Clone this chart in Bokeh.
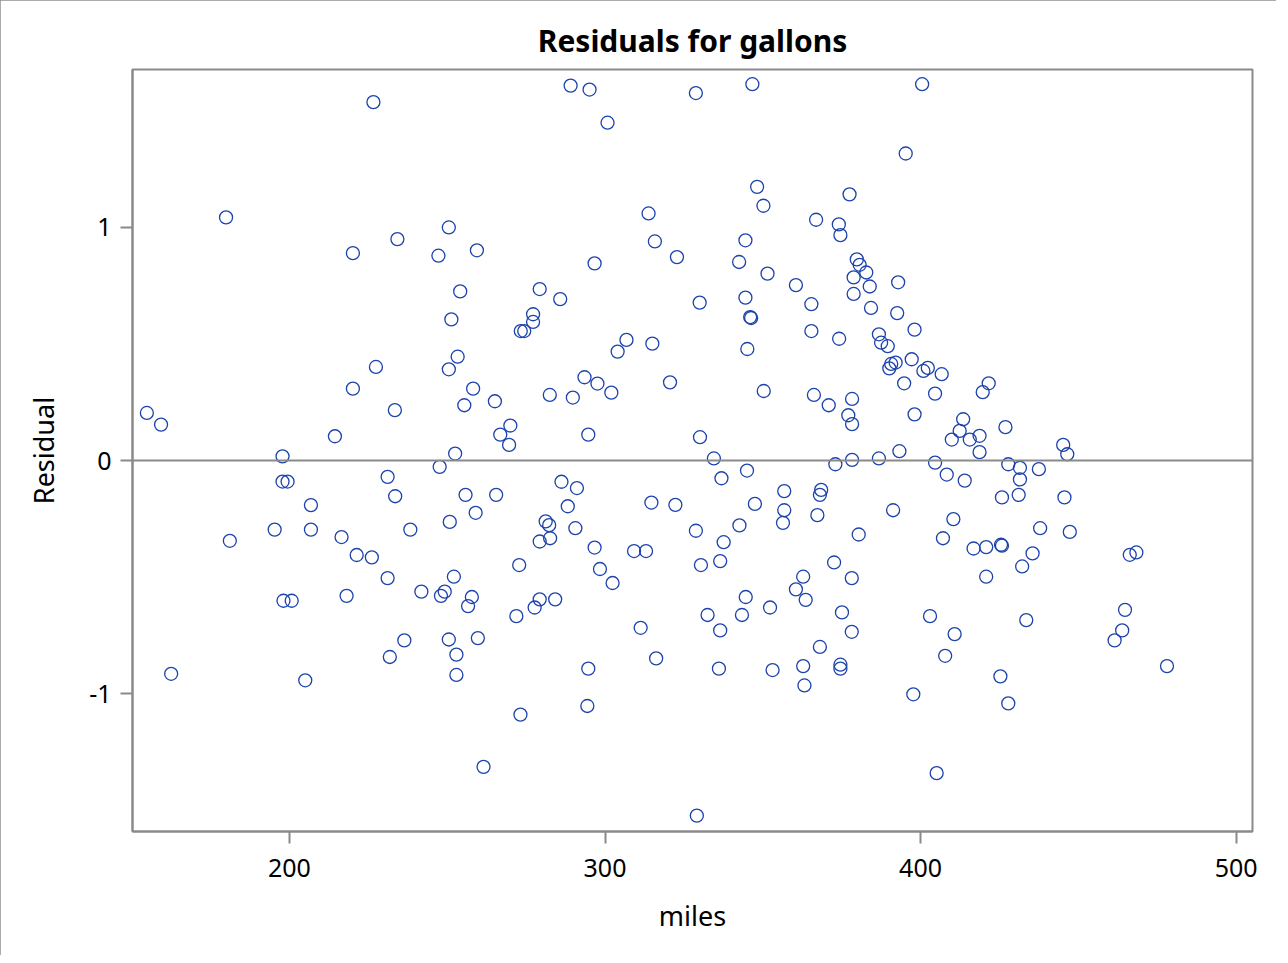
from bokeh.plotting import figure
from bokeh.models import Span, Range1d, FixedTicker, PrintfTickFormatter
from bokeh.embed import file_html
from bokeh.resources import INLINE

miles = [
    154.8, 159.3, 162.5, 179.9, 181.1, 226.6, 234.2, 220.1, 227.4, 220.1, 233.4, 214.4, 197.8,
    197.8, 199.4, 206.8, 231.1, 233.5, 195.3, 206.8, 238.3, 216.5, 221.3, 226.1, 231.1, 241.8,
    198.1, 200.7, 218.1, 236.4, 231.8, 205.0,
    289.1, 295.1, 328.8, 300.8, 313.8, 250.5, 247.2, 259.4, 315.8, 322.8, 296.7, 254.1, 279.3,
    285.8, 330.0, 251.3, 277.2, 277.2, 273.3, 274.4, 306.8, 304.0, 315.0, 253.3, 250.5, 293.5,
    297.6, 302.0, 320.6, 258.2, 255.4, 265.1, 282.5, 289.8, 270.0, 266.8, 269.6, 294.7, 330.1,
    252.5,
    247.6, 286.2, 291.1, 255.8, 265.5, 259.0, 250.8, 288.2, 281.2, 282.3, 290.6, 279.3, 282.6,
    296.7, 314.7, 322.3, 328.8, 309.2, 313.0, 272.8, 298.4, 302.4, 330.4, 252.1, 248.0, 249.2,
    257.8, 256.6, 279.3, 277.7, 284.2, 271.9, 311.3, 332.5, 250.5, 259.7, 252.9, 252.9, 316.2,
    294.7, 294.4, 273.2, 261.5, 329.1,
    346.7, 400.5, 395.3, 348.2, 350.2, 377.5, 366.9, 374.1, 374.6, 344.5, 342.5, 351.5, 360.5,
    379.8, 380.7, 382.8, 378.8, 383.9, 392.9, 378.8, 344.5, 365.4, 384.3, 392.6, 346.0, 346.3,
    365.4, 374.2, 345.1, 398.1, 386.8, 387.5, 389.6, 392.1, 390.7, 390.1, 397.2, 402.3, 400.9,
    406.7, 394.8, 421.6, 419.7, 404.6, 350.3, 366.2, 370.9, 378.3, 377.1, 378.3, 398.1, 413.5,
    412.4, 409.9, 415.6, 418.7, 418.7, 393.3,
    334.5, 373.0, 378.3, 386.8, 404.6, 336.9, 345.0, 408.3, 414.0, 356.8, 368.5, 368.1, 347.5,
    356.8, 356.4, 367.3, 391.3, 342.6, 380.4, 410.4, 407.1, 337.6, 416.8, 420.8, 336.5, 372.6,
    362.8, 378.2, 420.8, 360.5, 363.6, 344.6, 352.3, 343.4, 375.1, 403.0, 336.5, 378.2, 410.8,
    368.1, 407.8, 336.1, 353.1, 362.8, 374.6, 374.6, 363.2, 397.7, 405.1,
    426.9, 445.2, 446.5, 427.8, 431.5, 437.5, 431.5, 425.8, 431.1, 445.6,
    437.9, 447.3, 425.5, 425.8, 435.5, 432.2, 466.3, 468.4, 433.5, 464.8, 463.9, 461.5, 478.1,
    425.3, 427.8,
]

residual = [
    0.204, 0.154, -0.914, 1.042, -0.344, 1.536, 0.949, 0.889, 0.401, 0.308, 0.216, 0.104, 0.018,
    -0.090, -0.090, -0.191, -0.070, -0.153, -0.296, -0.296, -0.296, -0.328, -0.405, -0.415, -0.504, -0.562,
    -0.601, -0.601, -0.580, -0.771, -0.842, -0.942,
    1.607, 1.590, 1.575, 1.448, 1.059, 0.999, 0.878, 0.901, 0.939, 0.872, 0.845, 0.725, 0.735,
    0.692, 0.677, 0.605, 0.627, 0.594, 0.555, 0.555, 0.517, 0.467, 0.501, 0.445, 0.391, 0.357,
    0.330, 0.291, 0.335, 0.308, 0.237, 0.254, 0.281, 0.270, 0.150, 0.111, 0.067, 0.111, 0.100,
    0.030,
    -0.027, -0.091, -0.118, -0.147, -0.147, -0.224, -0.263, -0.196, -0.261, -0.277, -0.290, -0.347, -0.333,
    -0.373, -0.180, -0.190, -0.301, -0.388, -0.388, -0.448, -0.465, -0.525, -0.448, -0.498, -0.580, -0.562,
    -0.585, -0.624, -0.595, -0.630, -0.595, -0.667, -0.717, -0.662, -0.767, -0.761, -0.832, -0.919, -0.848,
    -0.892, -1.052, -1.089, -1.313, -1.522,
    1.613, 1.613, 1.316, 1.173, 1.092, 1.141, 1.032, 1.012, 0.966, 0.944, 0.851, 0.801, 0.752,
    0.862, 0.839, 0.806, 0.785, 0.746, 0.764, 0.714, 0.698, 0.670, 0.654, 0.632, 0.615, 0.611,
    0.555, 0.522, 0.478, 0.561, 0.541, 0.505, 0.490, 0.420, 0.414, 0.395, 0.434, 0.397, 0.384,
    0.370, 0.331, 0.331, 0.293, 0.287, 0.298, 0.281, 0.237, 0.264, 0.194, 0.156, 0.198, 0.177,
    0.127, 0.090, 0.090, 0.106, 0.036, 0.040,
    0.009, -0.016, 0.003, 0.009, -0.009, -0.076, -0.043, -0.060, -0.086, -0.131, -0.126, -0.147, -0.186,
    -0.213, -0.267, -0.234, -0.213, -0.278, -0.317, -0.251, -0.333, -0.350, -0.377, -0.371, -0.431, -0.437,
    -0.498, -0.504, -0.498, -0.552, -0.597, -0.585, -0.630, -0.662, -0.651, -0.667, -0.728, -0.734, -0.744,
    -0.799, -0.837, -0.892, -0.898, -0.881, -0.875, -0.892, -0.964, -1.002, -1.340,
    0.143, 0.067, 0.027, -0.016, -0.031, -0.037, -0.081, -0.158, -0.147, -0.158,
    -0.290, -0.306, -0.361, -0.365, -0.398, -0.454, -0.404, -0.394, -0.684, -0.640, -0.728, -0.771, -0.881,
    -0.925, -1.041,
]

x_ticks = [200, 300, 400, 500]
y_ticks = [-1, 0, 1]

FONT = "Noto Sans"
GREY = "#8a8a8a"

p = figure(
    width=1276, height=955,
    output_backend="svg", toolbar_location=None,
    x_range=Range1d(150.25, 505.2), y_range=Range1d(-1.590, 1.676),
    min_border_left=132, min_border_right=24, min_border_top=69, min_border_bottom=124,
    title="Residuals for gallons",
)
p.styles = {"outline": "2px solid #8f8f8f", "outline-offset": "-2px"}

p.title.align = "center"
p.title.text_font = FONT
p.title.text_font_size = "30px"
p.title.text_font_style = "bold"
p.title.text_color = "black"
p.title.standoff = 17

p.outline_line_color = GREY
p.outline_line_width = 2
p.xgrid.visible = False
p.ygrid.visible = False
p.background_fill_color = "white"
p.border_fill_color = "white"

p.add_layout(Span(location=0, dimension="width", line_color=GREY, line_width=2))

p.scatter(miles, residual, marker="circle", size=13, fill_color=None,
          line_color="#1c42ac", line_width=1.3)

for ax in (p.xaxis[0], p.yaxis[0]):
    ax.axis_line_color = GREY
    ax.axis_line_width = 2
    ax.major_tick_line_color = GREY
    ax.major_tick_line_width = 2
    ax.major_tick_out = 12
    ax.major_tick_in = 0
    ax.minor_tick_line_color = None
    ax.major_label_text_font = FONT
    ax.major_label_text_font_size = "25px"
    ax.major_label_text_color = "black"
    ax.axis_label_text_font = FONT
    ax.axis_label_text_font_size = "27px"
    ax.axis_label_text_font_style = "normal"
    ax.axis_label_text_color = "black"
    ax.formatter = PrintfTickFormatter(format="%d")

p.xaxis[0].ticker = FixedTicker(ticks=x_ticks)
p.yaxis[0].ticker = FixedTicker(ticks=y_ticks)
p.xaxis[0].axis_label = "miles"
p.yaxis[0].axis_label = "Residual"
p.xaxis[0].major_label_standoff = 15
p.yaxis[0].major_label_standoff = 9
p.xaxis[0].axis_label_standoff = 17
p.yaxis[0].axis_label_standoff = 24

open("out.html", "w").write(file_html(p, INLINE))
